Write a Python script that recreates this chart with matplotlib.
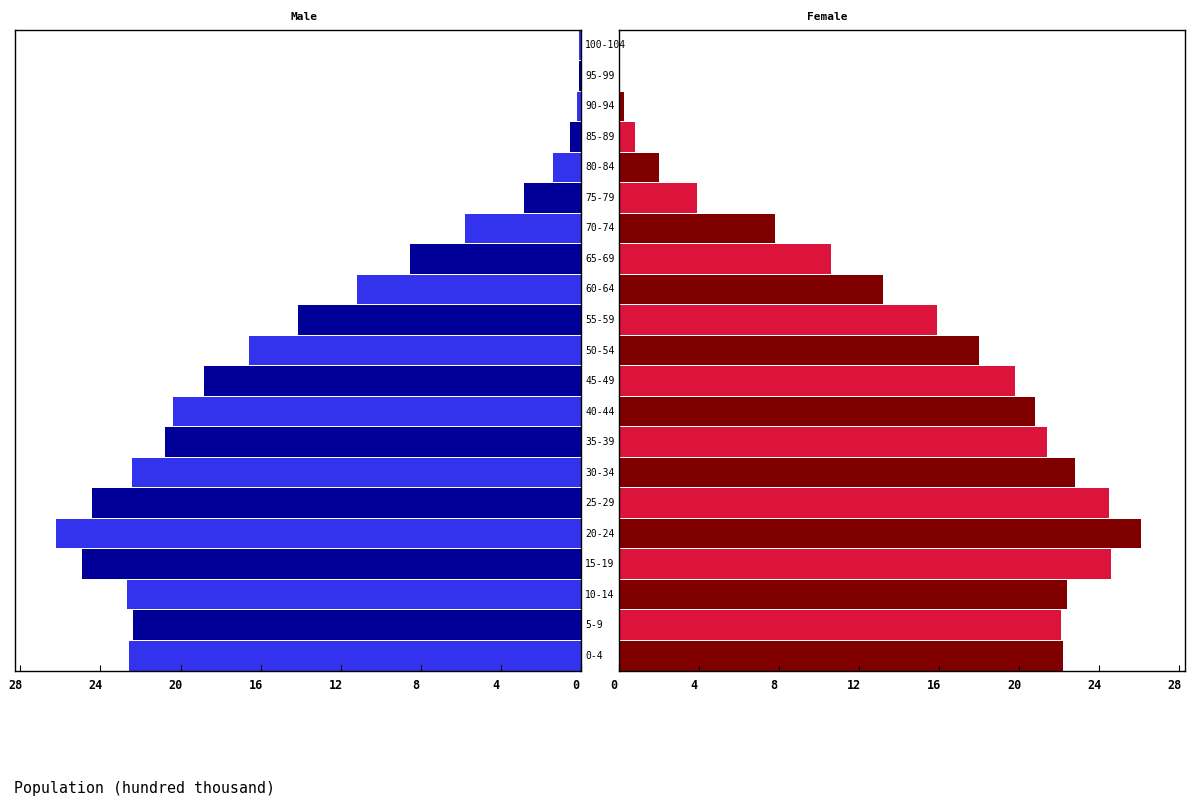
import matplotlib.pyplot as plt
from matplotlib.transforms import ScaledTranslation

ages = ['0-4', '5-9', '10-14', '15-19', '20-24', '25-29', '30-34', '35-39',
        '40-44', '45-49', '50-54', '55-59', '60-64', '65-69', '70-74', '75-79',
        '80-84', '85-89', '90-94', '95-99', '100-104']
male = [22.6, 22.4, 22.7, 24.9, 26.2, 24.4, 22.45, 20.8, 20.4, 18.85, 16.6,
        14.15, 11.2, 8.55, 5.8, 2.85, 1.4, 0.55, 0.2, 0.1, 0.08]
female = [22.2, 22.07, 22.4, 24.6, 26.07, 24.5, 22.8, 21.4, 20.8, 19.8, 17.97,
          15.87, 13.17, 10.6, 7.8, 3.9, 2.0, 0.82, 0.27, 0.06, 0.07]
ticks = [0, 4, 8, 12, 16, 20, 24, 28]

male_cols = ['#3333ee', '#000099']
female_cols = ['#800000', '#dc143c']

mono = 'DejaVu Sans Mono'
fig = plt.figure(figsize=(12, 8), dpi=100)
axl = fig.add_axes([15/1200, 1 - 671/800, 566/1200, 641/800])
axr = fig.add_axes([619/1200, 1 - 671/800, 566/1200, 641/800])

y = list(range(len(ages)))
axl.barh(y, male, height=0.97, color=[male_cols[i % 2] for i in y])
axr.barh(y, female, height=0.97, color=[female_cols[i % 2] for i in y])

shift = ScaledTranslation(-5/100, 0, fig.dpi_scale_trans)
for ax in (axl, axr):
    ax.set_ylim(-0.5, len(ages) - 0.5)
    ax.set_yticks([])
    ax.set_xticks(ticks)
    ax.set_xticklabels([str(t) for t in ticks], fontfamily=mono,
                       fontweight='bold', fontsize=8.5)
    ax.tick_params(axis='x', direction='in', length=4, pad=6)
    for lab in ax.get_xticklabels():
        lab.set_transform(lab.get_transform() + shift)
    for s in ax.spines.values():
        s.set_linewidth(1)

axl.set_xlim(28.27, 0)
axr.set_xlim(0, 28.28)

fig.text(304/1200, 1 - 17/800, 'Male', fontfamily=mono, fontweight='bold',
         fontsize=8, ha='center', va='center')
fig.text(827/1200, 1 - 17/800, 'Female', fontfamily=mono, fontweight='bold',
         fontsize=8, ha='center', va='center')

for i, a in enumerate(ages):
    yy = 1 - (30 + 641 * (len(ages) - i - 0.5) / len(ages)) / 800
    fig.text(585/1200, yy, a, ha='left', va='center', fontfamily=mono,
             fontsize=7, zorder=10)

fig.text(14/1200, 1 - 788/800, 'Population (hundred thousand)',
         fontfamily=mono, fontsize=10.7, va='center', ha='left')

fig.savefig('out.png', dpi=100)
